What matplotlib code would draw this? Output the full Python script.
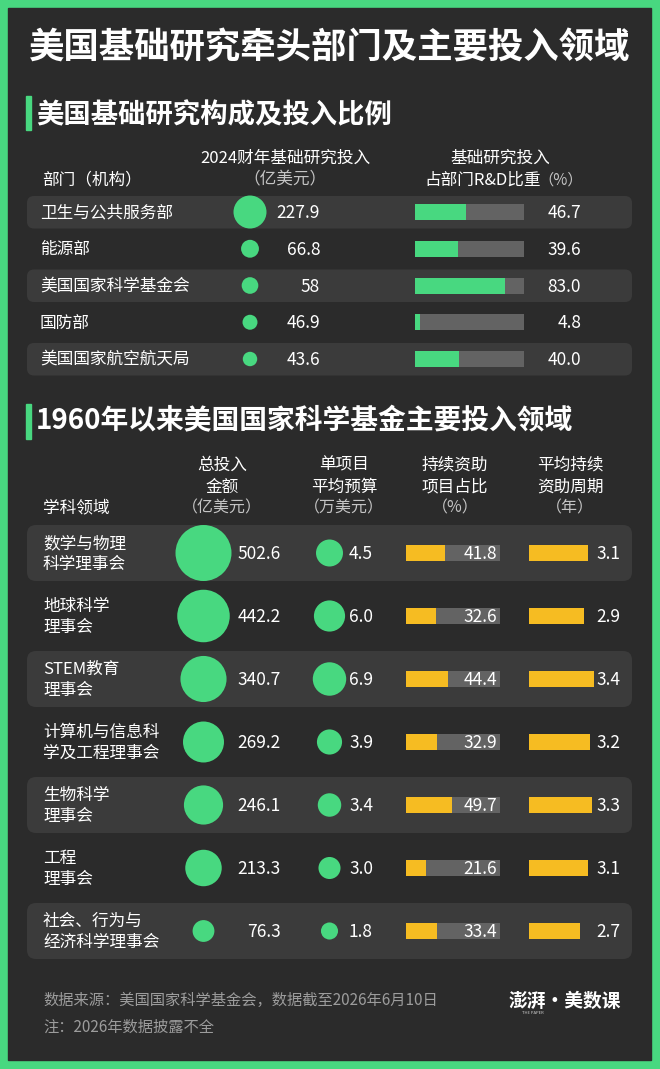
import matplotlib.pyplot as plt
from matplotlib.patches import Rectangle, FancyBboxPatch

plt.rcParams['font.family'] = ['Noto Sans CJK SC', 'DejaVu Sans']

# --- DATA: 美国基础研究构成及投入比例 ---
departments = ["卫生与公共服务部", "能源部", "美国国家科学基金会", "国防部", "美国国家航空航天局"]
basic_invest = [227.9, 66.8, 58, 46.9, 43.6]        # 亿美元
basic_share = [46.7, 39.6, 83.0, 4.8, 40.0]         # %

# --- DATA: 1960年以来美国国家科学基金主要投入领域 ---
fields = ["数学与物理\n科学理事会", "地球科学\n理事会", "STEM教育\n理事会",
          "计算机与信息科\n学及工程理事会", "生物科学\n理事会", "工程\n理事会",
          "社会、行为与\n经济科学理事会"]
total_invest = [502.6, 442.2, 340.7, 269.2, 246.1, 213.3, 76.3]   # 亿美元
avg_budget = [4.5, 6.0, 6.9, 3.9, 3.4, 3.0, 1.8]                  # 万美元
cont_share = [41.8, 32.6, 44.4, 32.9, 49.7, 21.6, 33.4]           # %
cont_years = [3.1, 2.9, 3.4, 3.2, 3.3, 3.1, 2.7]                  # 年

GREEN = "#48d880"
ORANGE = "#f6bc22"
BG = "#2b2b2b"
BAND = "#3b3b3b"
TRACK = "#636363"
WHITE = "#ffffff"
UNIT = "#c4c4c4"
FOOT = "#9c9c9c"
NUM = 12.5

W, H = 660, 1069
fig = plt.figure(figsize=(6.6, 10.69), dpi=100, facecolor=GREEN)
ax = fig.add_axes([0, 0, 1, 1])
ax.set_xlim(0, W)
ax.set_ylim(H, 0)
ax.axis("off")

# dark panel
ax.add_patch(Rectangle((8, 8), 643, 1052, color=BG, zorder=0))

# title
ax.text(330, 48, "美国基础研究牵头部门及主要投入领域", color=WHITE, fontsize=25.5,
        fontweight="bold", ha="center", va="center")

# --- SECTION 1 ---
ax.add_patch(Rectangle((26, 96), 5, 34, color=GREEN))
ax.text(36, 115, "美国基础研究构成及投入比例", color=WHITE, fontsize=19.7,
        fontweight="bold", ha="left", va="center")

ax.text(42, 180, "部门（机构）", color=WHITE, fontsize=12, va="center")
ax.text(285, 158, "2024财年基础研究投入", color=WHITE, fontsize=12, ha="center", va="center")
ax.text(285, 180, "（亿美元）", color=UNIT, fontsize=12, ha="center", va="center")
ax.text(500, 158, "基础研究投入", color=WHITE, fontsize=12, ha="center", va="center")
ax.text(541, 180, "占部门R&D比重", color=WHITE, fontsize=12, ha="right", va="center")
ax.text(538, 180, "（%）", color=UNIT, fontsize=11, ha="left", va="center")

rows1 = [212 + 36.75 * i for i in range(len(departments))]
for i, y in enumerate(rows1):
    if i % 2 == 0:
        ax.add_patch(FancyBboxPatch((27, y - 16), 605, 32.5,
                                    boxstyle="round,pad=0,rounding_size=7",
                                    color=BAND, lw=0, zorder=1))
    ax.text(40, y + 1, departments[i], color=WHITE, fontsize=12, va="center", zorder=3)
    ax.text(320, y + 1, f"{basic_invest[i]:g}", color=WHITE, fontsize=NUM,
            ha="right", va="center", zorder=3)
    ax.text(581, y + 1, f"{basic_share[i]:.1f}", color=WHITE, fontsize=NUM,
            ha="right", va="center", zorder=3)

ax.scatter([250] * len(rows1), rows1, s=[v * 2.477 for v in basic_invest],
           color=GREEN, lw=0, zorder=3)

bx1 = fig.add_axes([415 / W, 0, 109 / W, 1])
bx1.set_xlim(0, 100)
bx1.set_ylim(H, 0)
bx1.axis("off")
bx1.barh(rows1, [100] * len(rows1), height=16, color=TRACK, lw=0)
bx1.barh(rows1, basic_share, height=16, color=GREEN, lw=0)

# --- SECTION 2 ---
ax.add_patch(Rectangle((26, 404), 5, 35, color=GREEN))
ax.text(36, 421, "1960年以来美国国家科学基金主要投入领域", color=WHITE, fontsize=20,
        fontweight="bold", ha="left", va="center")

ax.text(43, 508, "学科领域", color=WHITE, fontsize=12, va="center")
headers = [(222, "总投入", "金额", "（亿美元）"),
           (344, "单项目", "平均预算", "（万美元）"),
           (455, "持续资助", "项目占比", "（%）"),
           (570, "平均持续", "资助周期", "（年）")]
for x, l1, l2, l3 in headers:
    ax.text(x, 465, l1, color=WHITE, fontsize=12, ha="center", va="center")
    ax.text(x, 487, l2, color=WHITE, fontsize=12, ha="center", va="center")
    ax.text(x, 508, l3, color=UNIT, fontsize=11.5, ha="center", va="center")

rows2 = [553 + 63 * i for i in range(len(fields))]
for i, y in enumerate(rows2):
    if i % 2 == 0:
        ax.add_patch(FancyBboxPatch((27, y - 28), 605, 56,
                                    boxstyle="round,pad=0,rounding_size=9",
                                    color=BAND, lw=0, zorder=1))
    ax.text(43, y + 1, fields[i], color=WHITE, fontsize=12, va="center",
            linespacing=1.25, zorder=3)
    ax.text(281, y + 1, f"{total_invest[i]:.1f}", color=WHITE, fontsize=NUM,
            ha="right", va="center", zorder=3)
    ax.text(349, y + 1, f"{avg_budget[i]:.1f}", color=WHITE, fontsize=NUM,
            ha="left", va="center", zorder=3)
    fig.text(497, y + 1, f"{cont_share[i]:.1f}", color=WHITE, fontsize=NUM,
             ha="right", va="center", transform=ax.transData)
    ax.text(596, y + 1, f"{cont_years[i]:.1f}", color=WHITE, fontsize=NUM,
            ha="left", va="center", zorder=3)

ax.scatter([203.5] * len(rows2), rows2, s=[v * 3.235 for v in total_invest],
           color=GREEN, lw=0, zorder=3)
ax.scatter([329.5] * len(rows2), rows2, s=[v * 84 for v in avg_budget],
           color=GREEN, lw=0, zorder=3)

bx2 = fig.add_axes([406 / W, 0, 93.5 / W, 1])
bx2.set_xlim(0, 100)
bx2.set_ylim(H, 0)
bx2.axis("off")
bx2.barh(rows2, [100] * len(rows2), height=15.5, color=TRACK, lw=0)
bx2.barh(rows2, cont_share, height=15.5, color=ORANGE, lw=0)

bx3 = fig.add_axes([529 / W, 0, 76 / W, 1])
bx3.set_xlim(0, 4)
bx3.set_ylim(H, 0)
bx3.axis("off")
bx3.barh(rows2, cont_years, height=15.5, color=ORANGE, lw=0)

# --- FOOTER ---
ax.text(43, 1000, "数据来源：美国国家科学基金会，数据截至2026年6月10日", color=FOOT,
        fontsize=11, va="center")
ax.text(43, 1027, "注：2026年数据披露不全", color=FOOT, fontsize=11, va="center")
ax.text(621, 1001, "澎湃·美数课", color=WHITE, fontsize=13.5, fontweight="bold",
        ha="right", va="center")
ax.text(522, 1013, "THE PAPER", color="#cfcfcf", fontsize=3, ha="left", va="center")

plt.savefig("out.png", dpi=100, facecolor=GREEN)
